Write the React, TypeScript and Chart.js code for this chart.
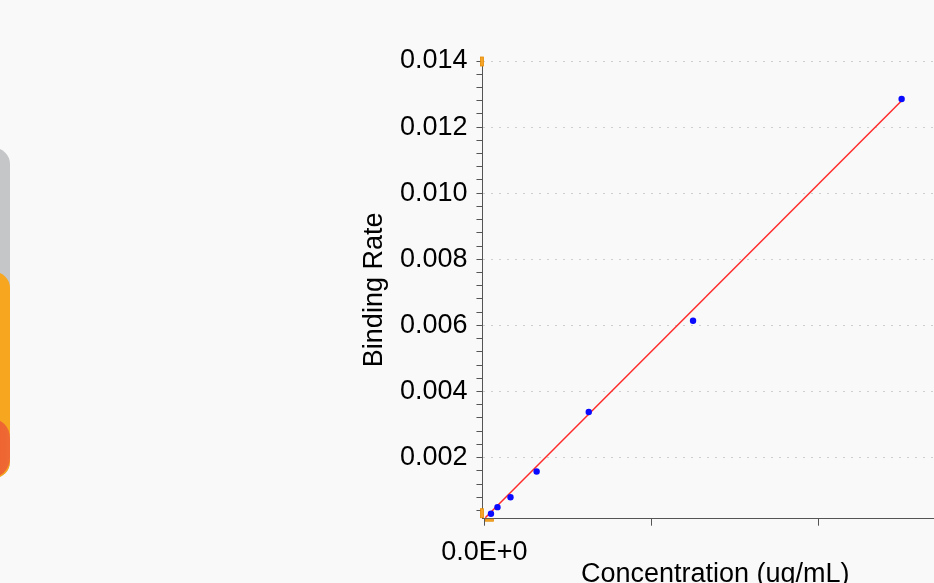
import React, { useEffect, useRef } from 'react';
import { Chart, registerables } from 'chart.js';

Chart.register(...registerables);

// ---- data ----
const conc = [0.039, 0.078, 0.156, 0.3125, 0.625, 1.25, 2.5];
const rate = [0.0003, 0.0005, 0.0008, 0.00158, 0.00338, 0.00614, 0.01285];
const fitX = [0.005, 2.5];
const fitY = [0.00018, 0.0128];
const xTicks = [0, 1, 2];
const xTickLabels = ['0.0E+0', '', ''];
const yMajor = [0.002, 0.004, 0.006, 0.008, 0.01, 0.012, 0.014];
const yTickLabels = ['0.002', '0.004', '0.006', '0.008', '0.010', '0.012', '0.014'];
const yMinorStep = 0.0004;

const FONT = "'Liberation Sans', Arial, sans-serif";
const FS = 27;

const markers = {
  id: 'rangeMarkers',
  afterDraw(chart: any) {
    const { ctx, chartArea: a } = chart;
    ctx.save();
    ctx.fillStyle = '#f4a429';
    ctx.strokeStyle = '#e58a00';
    ctx.lineWidth = 0.8;
    const r = (x: number, y: number, w: number, h: number) => {
      ctx.fillRect(x, y, w, h);
      ctx.strokeRect(x, y, w, h);
    };
    r(a.left - 2, a.top - 4, 3, 9);
    r(a.left - 2, a.bottom - 10, 3, 9);
    r(a.left + 3, a.bottom + 0.5, 8, 2);
    ctx.restore();
  },
};

export default function App() {
  const ref = useRef<HTMLCanvasElement>(null);
  useEffect(() => {
    const canvas = ref.current!;
    const yAll: number[] = [];
    for (let i = 1; i * yMinorStep <= 0.014 + 1e-9; i++) yAll.push(+(i * yMinorStep).toFixed(5));
    const majorIdx = (v: number) => yMajor.findIndex((m) => Math.abs(m - v) < 1e-9);
    const chart = new Chart(canvas, {
      type: 'scatter',
      data: {
        datasets: [
          {
            type: 'scatter',
            data: conc.map((x, i) => ({ x, y: rate[i] })),
            backgroundColor: '#0a0aff',
            borderColor: '#0a0aff',
            pointRadius: 3.2,
            borderWidth: 0,
            order: 0,
          } as any,
          {
            type: 'line',
            data: fitX.map((x, i) => ({ x, y: fitY[i] })),
            borderColor: '#ff2a2a',
            borderWidth: 1.5,
            pointRadius: 0,
            fill: false,
            order: 1,
          } as any,
        ],
      },
      options: {
        responsive: false,
        animation: false,
        devicePixelRatio: 1,
        layout: { padding: { left: 354.5, top: 61, right: 12, bottom: 24.8 } },
        plugins: { legend: { display: false }, tooltip: { enabled: false } },
        scales: {
          x: {
            type: 'linear',
            min: -0.012,
            max: 2.778,
            afterBuildTicks: (s: any) => {
              s.ticks = xTicks.map((v) => ({ value: v }));
            },
            ticks: {
              callback: (_v: any, i: number) => xTickLabels[i],
              font: { family: FONT, size: FS },
              color: '#000',
              padding: 11,
              maxRotation: 0,
              autoSkip: false,
            },
            grid: { drawOnChartArea: false, tickLength: 7, tickColor: '#555', color: '#555' },
            border: { color: '#555', width: 1 },
            title: {
              display: true,
              text: 'Concentration (ug/mL)',
              font: { family: FONT, size: FS },
              color: '#000',
              padding: { top: -21.3, bottom: 4 },
            },
          },
          y: {
            type: 'linear',
            min: 0.00015,
            max: 0.014,
            afterBuildTicks: (s: any) => {
              s.ticks = yAll.map((v) => ({ value: v }));
            },
            ticks: {
              callback: (v: any) => {
                const i = majorIdx(Number(v));
                return i >= 0 ? yTickLabels[i] : '';
              },
              font: { family: FONT, size: FS },
              color: '#000',
              padding: 9,
              autoSkip: false,
            },
            grid: {
              color: (c: any) => (c.tick && majorIdx(c.tick.value) >= 0 ? '#cfcfcf' : 'rgba(0,0,0,0)'),
              tickColor: '#555',
              tickLength: 6,
            },
            border: { color: '#555', width: 1, dash: [2, 6] },
            title: {
              display: true,
              text: 'Binding Rate',
              font: { family: FONT, size: FS },
              color: '#000',
              padding: { top: 4, bottom: 0 },
            },
          },
        },
      } as any,
      plugins: [markers],
    });
    return () => chart.destroy();
  }, []);

  return (
    <div
      style={{
        position: 'fixed',
        left: 0,
        top: 0,
        width: 934,
        height: 583,
        overflow: 'hidden',
        background: '#f9f9f9',
      }}
    >
      <div style={{ position: 'absolute', left: -30, top: 148, width: 40, height: 330, borderRadius: 16, background: '#c5c6c8' }} />
      <div style={{ position: 'absolute', left: -30, top: 272, width: 40, height: 206, borderRadius: 16, background: '#f6a61f' }} />
      <div style={{ position: 'absolute', left: -30, top: 418, width: 40, height: 60, borderRadius: 30, background: 'linear-gradient(90deg,#f0552a,#ee6a34)' }} />
      <canvas ref={ref} width={960} height={620} style={{ position: 'absolute', left: 0, top: 0, width: 960, height: 620 }} />
    </div>
  );
}
